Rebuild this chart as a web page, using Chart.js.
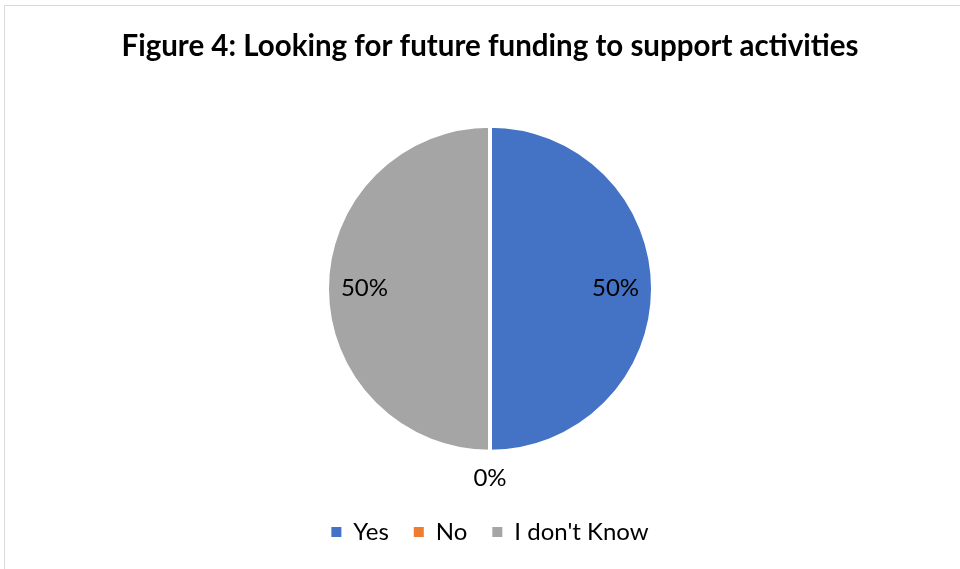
<!DOCTYPE html>
<html>
<head>
<meta charset="utf-8">
<script src="https://cdn.jsdelivr.net/npm/chart.js"></script>
<style>
	html, body { margin: 0; padding: 0; background: #ffffff; }
	#wrap { position: relative; width: 960px; height: 569px; }
	#frame { position: absolute; left: 4px; top: 5px; right: 0; bottom: 0; border-top: 1px solid #d9d9d9; border-left: 1px solid #d9d9d9; }
	canvas { position: absolute; left: 0; top: 0; }
</style>
</head>
<body>
<div id="wrap">
	<div id="frame"></div>
	<canvas id="myChart" width="960" height="569"></canvas>
</div>
<script>
//answers and share of responses (percent)
const answer_labels = ['Yes', 'No', "I don't Know"];
const answer_values = [50, 0, 50];
const answer_colors = ['#4472c4', '#ed7d31', '#a5a5a5'];
const chart_title = 'Figure 4: Looking for future funding to support activities';

const font_family = "Lato, 'Open Sans', 'Liberation Sans', sans-serif";

//draws the percent labels like excel does (inside for big slices, outside for empty ones)
const pieLabels = {
	id: 'pieLabels',
	afterDatasetsDraw(chart) {
		const ctx = chart.ctx;
		const meta = chart.getDatasetMeta(0);
		ctx.save();
		ctx.font = '24px ' + font_family;
		ctx.fillStyle = '#000000';
		ctx.textAlign = 'center';
		ctx.textBaseline = 'middle';
		meta.data.forEach(function (arc, i) {
			let val = answer_values[i];
			let mid = (arc.startAngle + arc.endAngle) / 2;
			let dist = val > 0 ? arc.outerRadius * 0.77 : arc.outerRadius + 27;
			let x = arc.x + Math.cos(mid) * dist;
			let y = arc.y + Math.sin(mid) * dist;
			ctx.fillText(val + '%', x, y);
		});
		ctx.restore();
	}
};

//default pie legend items, but without the white slice border on the boxes
const defaultLabels = Chart.overrides.pie.plugins.legend.labels.generateLabels;

const ctx = document.getElementById('myChart');
const myChart = new Chart(ctx, {
	type: 'pie',
	data: {
		labels: answer_labels,
		datasets: [
			{
				data: answer_values,
				backgroundColor: answer_colors,
				borderColor: '#ffffff',
				borderWidth: 4
			}
		]
	},
	options: {
		responsive: false,
		animation: false,
		radius: 163,
		layout: {
			padding: { left: 20, right: 0, top: 0, bottom: 15 }
		},
		plugins: {
			title: {
				display: true,
				text: chart_title,
				color: '#000000',
				font: { family: font_family, size: 29.5, weight: 'bold' },
				padding: { top: 28.5, bottom: 18.5 }
			},
			legend: {
				position: 'bottom',
				labels: {
					color: '#000000',
					font: { family: font_family, size: 24 },
					boxWidth: 10,
					boxHeight: 10,
					padding: 25,
					generateLabels: function (chart) {
						let items = defaultLabels(chart);
						items.forEach(function (item) {
							item.lineWidth = 0;
							item.strokeStyle = item.fillStyle;
						});
						return items;
					}
				}
			},
			tooltip: { enabled: false }
		}
	},
	plugins: [pieLabels]
});
</script>
</body>
</html>
